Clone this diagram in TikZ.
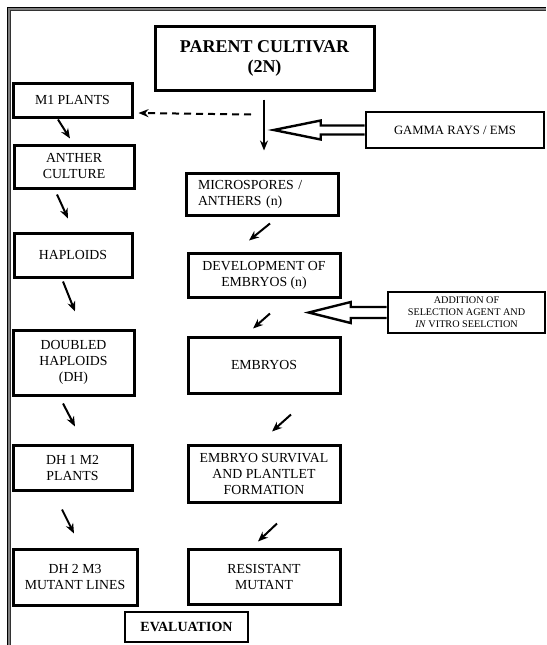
\documentclass[tikz,border=0pt]{standalone}
\usepackage{fontspec}
\setmainfont{Liberation Serif}
\usetikzlibrary{arrows.meta}

\tikzset{
    box/.style={draw, line width=3pt, inner sep=0pt, align=center,
        font=\fontsize{13.8}{16}\selectfont},
    thinbox/.style={box, line width=1.3pt},
    arr/.style={-{Stealth[length=10pt,width=8pt]}, line width=2pt},
    hollow/.style={line width=2.4pt, line join=miter},
}

\begin{document}
\begin{tikzpicture}[x=1pt, y=-1pt]
                \useasboundingbox (0,0) rectangle (546,645);
                % the frame round the page
                \draw[line width=1pt] (7.5,645) -- (7.5,7.5) -- (546,7.5);
                \draw[line width=2pt, gray] (9.3,645) -- (9.3,9.3) -- (546,9.3);
                \draw[line width=0.7pt, black!80] (10.8,645) -- (10.8,10.8) -- (546,10.8);

                % the boxes
                \node[box, minimum width=219pt, minimum height=64pt, font=\fontsize{18}{20}\selectfont\bfseries] (parent) at (264.5,58) {PARENT CULTIVAR\\(2N)};
                \node[box, minimum width=119pt, minimum height=34pt] (m1) at (72.5,100) {M1 PLANTS};
                \node[box, line width=2.6pt, minimum width=178pt, minimum height=36pt, font=\fontsize{12.7}{15}\selectfont] (gamma) at (455,130) {GAMMA RAYS / EMS};
                \node[box, minimum width=120pt, minimum height=43pt] (anther) at (74,166.5) {ANTHER\\CULTURE};
                \node[box, minimum height=42pt, text width=128pt, inner xsep=12pt, align=left] (micro) at (262,194) {MICROSPORES /\\ANTHERS (n)};
                \node[box, minimum width=118pt, minimum height=44pt] (haploids) at (73,255) {HAPLOIDS};
                \node[box, minimum width=152pt, minimum height=44pt] (dev) at (264,275) {DEVELOPMENT OF\\EMBRYOS (n)};
                \node[box, line width=2.6pt, minimum width=157pt, minimum height=41pt, font=\fontsize{10.2}{12}\selectfont] (addition) at (466.5,312.5) {ADDITION OF\\SELECTION AGENT AND\\\textit{IN} VITRO SEELCTION};
                \node[box, minimum width=121pt, minimum height=65pt] (doubled) at (73.5,362.5) {DOUBLED\\HAPLOIDS\\(DH)};
                \node[box, minimum width=152pt, minimum height=56pt] (embryos) at (264,365) {EMBRYOS};
                \node[box, minimum width=119pt, minimum height=45pt] (dh1) at (72.5,467.5) {DH 1 M2\\PLANTS};
                \node[box, minimum width=152pt, minimum height=57pt] (survival) at (264,473.5) {EMBRYO SURVIVAL\\AND PLANTLET\\FORMATION};
                \node[box, minimum width=124pt, minimum height=56pt] (dh2) at (75,577) {DH 2 M3\\MUTANT LINES};
                \node[box, minimum width=152pt, minimum height=55pt] (resistant) at (264,576.5) {RESISTANT\\MUTANT};
                \node[thinbox, minimum width=123pt, minimum height=30pt, font=\fontsize{14}{16}\selectfont\bfseries] (evaluation) at (186.5,627) {EVALUATION};

                % left column
                \draw[arr] ([xshift=-14.5pt,yshift=-1pt]m1.south) -- ([xshift=-4pt,yshift=5pt]anther.north);
                \draw[arr] ([xshift=-17pt,yshift=-5pt]anther.south) -- ([xshift=-5pt,yshift=13pt]haploids.north);
                \draw[arr] ([xshift=-10pt,yshift=-3pt]haploids.south) -- ([xshift=1.5pt,yshift=17pt]doubled.north);
                \draw[arr] ([xshift=-10.5pt,yshift=-7pt]doubled.south) -- ([xshift=2.5pt,yshift=17pt]dh1.north);
                \draw[arr] ([xshift=-10.5pt,yshift=-18pt]dh1.south) -- ([xshift=-1pt,yshift=14pt]dh2.north);

                % middle column
                \draw[arr] ([xshift=-0.5pt,yshift=-8pt]parent.south) -- ([xshift=2pt,yshift=21pt]micro.north);
                \coordinate (split) at ([xshift=-13.5pt,yshift=-23pt]parent.south);
                \draw[arr, dashed, dash pattern=on 7pt off 5pt] (split) -- ([xshift=5pt,yshift=-13pt]m1.east);
                \draw[arr] ([xshift=8pt,yshift=-7pt]micro.south) -- ([xshift=-15pt,yshift=11pt]dev.north);
                \draw[arr] ([xshift=6pt,yshift=-15pt]dev.south) -- ([xshift=-11pt,yshift=7pt]embryos.north);
                \draw[arr] ([xshift=27pt,yshift=-20pt]embryos.south) -- ([xshift=8pt,yshift=12pt]survival.north);
                \draw[arr] ([xshift=13pt,yshift=-20pt]survival.south) -- ([xshift=-6pt,yshift=6pt]resistant.north);

                % hollow arrows from the right
                \draw[hollow] (gamma.west) ++(0,-4.5) -- ++(-44,0) -- ++(0,-5) -- ++(-47,9.5) -- ++(47,9.5) -- ++(0,-5) -- ++(44,0);
                \draw[hollow] (addition.west) ++(0,-5.5) -- ++(-36,0) -- ++(0,-5) -- ++(-42,10.5) -- ++(42,10.5) -- ++(0,-5) -- ++(36,0);

            \end{tikzpicture}
\end{document}
